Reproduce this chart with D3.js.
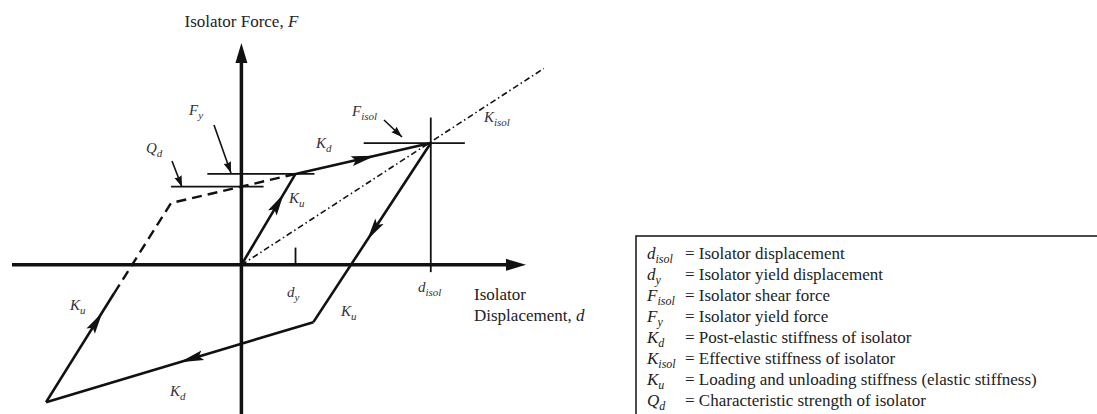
<!DOCTYPE html>
<html><head><meta charset="utf-8">
<script src="https://cdn.jsdelivr.net/npm/d3@7"></script>
<style>
body{margin:0;background:#fff;}
svg{display:block;}
text{font-family:"Liberation Serif","Tinos","Times New Roman",Times,"DejaVu Serif",serif;}
</style>
</head><body>
<svg id="chart" width="1097" height="414"></svg>
<script>
// ---------------- data (normalised: d / d_y , F / F_y) ----------------
const xDomain = [-4.24, 5.26];
const yDomain = [-1.64, 2.44];
const origin = [0, 0];
const yieldPoint = [1.0, 1.0];          // (d_y , F_y)
const maxPoint = [3.5, 1.34];           // (d_isol , F_isol)
const unloadEnd = [1.33, -0.63];
const minPoint = [-3.61, -1.51];
const reloadDashStart = [-2.35, -0.31];
const reloadKnee = [-1.30, 0.68];
const qdLevel = 0.86;                   // Q_d
const kisolEnd = [5.59, 2.16];

const elasticBranch = [origin, yieldPoint];
const postYieldBranch = [yieldPoint, maxPoint];
const unloadBranch = [maxPoint, unloadEnd];
const reverseBranch = [unloadEnd, minPoint];
const reloadSolid = [minPoint, reloadDashStart];
const reloadDashed = [reloadDashStart, reloadKnee, yieldPoint];
const kisolLine = [origin, kisolEnd];

const fyLine = [[-0.63, 1.0], [1.35, 1.0]];
const qdLine = [[-1.30, qdLevel], [0.41, qdLevel]];
const fisolLine = [[2.26, 1.34], [4.13, 1.34]];
const disolLine = [[3.5, 1.62], [3.5, -0.08]];
const dyTick = [[1.0, 0.19], [1.0, 0]];

const legendSymbols = [["d","isol"],["d","y"],["F","isol"],["F","y"],["K","d"],["K","isol"],["K","u"],["Q","d"]];
const legendText = [
  "= Isolator displacement",
  "= Isolator yield displacement",
  "= Isolator shear force",
  "= Isolator yield force",
  "= Post-elastic stiffness of isolator",
  "= Effective stiffness of isolator",
  "= Loading and unloading stiffness (elastic stiffness)",
  "= Characteristic strength of isolator"
];

// ---------------- drawing ----------------
const FONT = "Liberation Serif, Tinos, Times New Roman, Times, DejaVu Serif, serif";
const svg = d3.select("#chart").attr("font-family", FONT);
svg.append("rect").attr("width",1097).attr("height",414).attr("fill","#fff");
const xs = d3.scaleLinear().domain(xDomain).range([12, 526]);
const ys = d3.scaleLinear().domain(yDomain).range([414, 43]);
const line = d3.line().x(p => xs(p[0])).y(p => ys(p[1]));
const ink = "#111";

function head(tip, angle, len, hw, notch) {
  const [tx, ty] = tip;
  const ca = Math.cos(angle), sa = Math.sin(angle);
  const bx = tx - len*ca, by = ty - len*sa;
  const nx = tx - (len - notch)*ca, ny = ty - (len - notch)*sa;
  const pts = [[tx,ty],[bx - hw*sa, by + hw*ca],[nx,ny],[bx + hw*sa, by - hw*ca]];
  svg.append("path").attr("d", "M" + pts.map(p=>p.join(",")).join("L") + "Z").attr("fill", ink);
}
function branchArrow(branch, t, len, hw) {
  const a = [xs(branch[0][0]), ys(branch[0][1])];
  const b = [xs(branch[1][0]), ys(branch[1][1])];
  const tip = [a[0] + (b[0]-a[0])*t, a[1] + (b[1]-a[1])*t];
  head(tip, Math.atan2(b[1]-a[1], b[0]-a[0]), len, hw, 4);
}

// axes
const x0 = xs(0), y0 = ys(0);
svg.append("line").attr("x1", xs(xDomain[0])).attr("x2", xs(xDomain[1]) - 12)
  .attr("y1", y0).attr("y2", y0).attr("stroke", ink).attr("stroke-width", 3.5);
head([xs(xDomain[1]), y0], 0, 20, 6, 0);
svg.append("line").attr("x1", x0).attr("x2", x0).attr("y1", ys(yDomain[0]))
  .attr("y2", ys(yDomain[1]) + 12).attr("stroke", ink).attr("stroke-width", 3.5);
head([x0, ys(yDomain[1])], -Math.PI/2, 20, 6, 0);

// reference lines
[fyLine, qdLine, fisolLine, disolLine, dyTick].forEach(l => {
  svg.append("path").attr("d", line(l)).attr("stroke", ink).attr("stroke-width", 1.8).attr("fill","none");
});

// effective stiffness dash-dot
svg.append("path").attr("d", line(kisolLine)).attr("stroke", ink).attr("stroke-width", 1.6)
  .attr("fill","none").attr("stroke-dasharray","6,3,1.5,3");

// hysteresis branches
[elasticBranch, postYieldBranch, unloadBranch, reverseBranch, reloadSolid].forEach(b => {
  svg.append("path").attr("d", line(b)).attr("stroke", ink).attr("stroke-width", 2.6)
    .attr("fill","none").attr("stroke-linejoin","round");
});
svg.append("path").attr("d", line(reloadDashed)).attr("stroke", ink).attr("stroke-width", 2.4)
  .attr("fill","none").attr("stroke-dasharray","10,6");

// arrows on branches
branchArrow(elasticBranch, 0.78, 22, 5);
branchArrow(postYieldBranch, 0.59, 24, 5);
branchArrow(unloadBranch, 0.54, 22, 5);
branchArrow(reverseBranch, 0.50, 24, 5);
branchArrow([minPoint, reloadKnee], 0.45, 22, 5);

// label pointer arrows
function pointer(p1, p2) {
  svg.append("line").attr("x1",p1[0]).attr("y1",p1[1]).attr("x2",p2[0]).attr("y2",p2[1])
    .attr("stroke", ink).attr("stroke-width", 1.6);
  head(p2, Math.atan2(p2[1]-p1[1], p2[0]-p1[0]), 11, 3.8, 1);
}
pointer([214,125],[231,173]);
pointer([172,161],[182,187]);
pointer([384,120],[402,137]);

// labels
function sym(g, x, y, main, sub, size, subSize, color) {
  const t = g.append("text").attr("x", x).attr("y", y).attr("font-size", size)
    .attr("font-family", FONT).attr("font-style","italic").attr("fill", color);
  t.append("tspan").text(main);
  t.append("tspan").attr("dy", size*0.25).attr("font-size", subSize).text(sub);
  return t;
}
const labCol = "#333";
[
  [189,115,"F","y"],[146,153,"Q","d"],[316,148,"K","d"],[352,116,"F","isol"],
  [484,122,"K","isol"],[289,203,"K","u"],[287,297,"d","y"],[418,292,"d","isol"],
  [341,316,"K","u"],[70,310,"K","u"],[170,396,"K","d"]
].forEach(l => sym(svg, l[0], l[1], l[2], l[3], 15, 11, labCol));

const title = svg.append("text").attr("x", x0).attr("y", 27).attr("text-anchor","middle")
  .attr("font-family", FONT).attr("font-size", 17).attr("fill", "#222");
title.append("tspan").text("Isolator Force, ");
title.append("tspan").attr("font-style","italic").text("F");

svg.append("text").attr("x", 474).attr("y", 300).attr("font-family", FONT)
  .attr("font-size", 17).attr("fill","#222").text("Isolator");
const dl = svg.append("text").attr("x", 474).attr("y", 321).attr("font-family", FONT)
  .attr("font-size", 17).attr("fill","#222");
dl.append("tspan").text("Displacement, ");
dl.append("tspan").attr("font-style","italic").text("d");

// legend
const lg = svg.append("g");
lg.append("rect").attr("x", 636).attr("y", 236).attr("width", 480).attr("height", 200)
  .attr("fill","none").attr("stroke", ink).attr("stroke-width", 1.5);
legendSymbols.forEach((s, i) => {
  const y = 259 + i*21;
  sym(lg, 647, y, s[0], s[1], 17, 12, "#222");
  lg.append("text").attr("x", 685).attr("y", y).attr("font-family", FONT)
    .attr("font-size", 17).attr("fill","#222").text(legendText[i]);
});
</script>
</body></html>
